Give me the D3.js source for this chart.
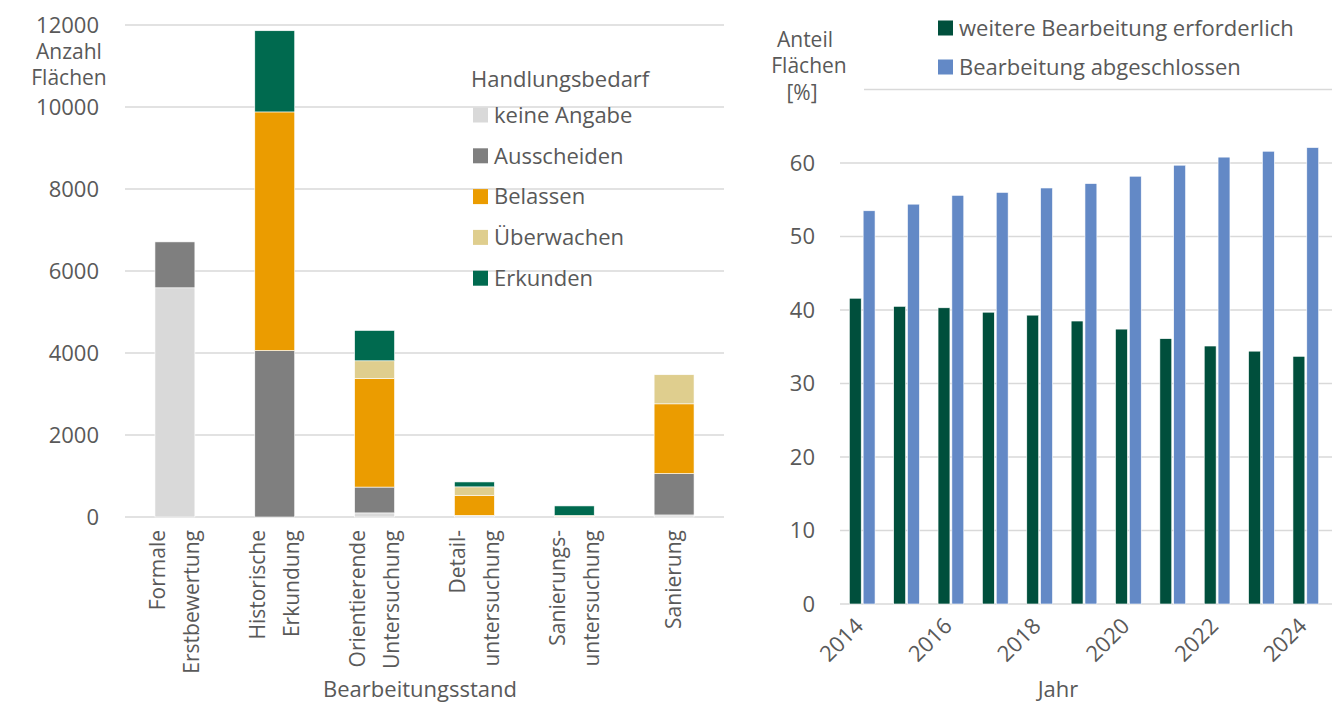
<!DOCTYPE html>
<html>
<head>
<meta charset="utf-8">
<script src="https://cdn.jsdelivr.net/npm/d3@7"></script>
<style>
  body { margin: 0; background: #fff; }
  svg text { font-family: "Open Sans", sans-serif; fill: #595959; }
</style>
</head>
<body>
<svg id="chart" width="1332" height="703"></svg>
<script>
(function(d3) {
    'use strict';

    // left chart: Bearbeitungsstand x Handlungsbedarf
    var stages = ['Formale Erstbewertung', 'Historische Erkundung', 'Orientierende Untersuchung',
        'Detailuntersuchung', 'Sanierungsuntersuchung', 'Sanierung'];
    var stageLabels = [['Formale', 'Erstbewertung'], ['Historische', 'Erkundung'],
        ['Orientierende', 'Untersuchung'], ['Detail-', 'untersuchung'],
        ['Sanierungs-', 'untersuchung'], ['Sanierung']];
    var needKeys = ['keine Angabe', 'Ausscheiden', 'Belassen', 'Überwachen', 'Erkunden'];
    var keineAngabe = [5590, 0, 100, 30, 20, 50];
    var ausscheiden = [1120, 4060, 630, 10, 0, 1010];
    var belassen = [0, 5820, 2650, 490, 20, 1700];
    var ueberwachen = [0, 0, 430, 205, 0, 710];
    var erkunden = [0, 1980, 740, 120, 230, 0];
    var countTicks = [0, 2000, 4000, 6000, 8000, 10000, 12000];

    // right chart: share per year
    var years = ['2014', '2015', '2016', '2017', '2018', '2019', '2020', '2021', '2022', '2023', '2024'];
    var yearLabels = ['2014', '2016', '2018', '2020', '2022', '2024'];
    var shareKeys = ['weitere Bearbeitung erforderlich', 'Bearbeitung abgeschlossen'];
    var weitere = [41.6, 40.5, 40.3, 39.7, 39.3, 38.5, 37.4, 36.1, 35.1, 34.4, 33.7];
    var abgeschlossen = [53.5, 54.4, 55.6, 56.0, 56.6, 57.2, 58.2, 59.7, 60.8, 61.6, 62.1];
    var shareTicks = [0, 10, 20, 30, 40, 50, 60];

    var needColors = ['#d9d9d9', '#7f7f7f', '#eb9c00', '#dfce8e', '#006a4f'];
    var shareColors = ['#004f3c', '#6389c6'];
    var gridColor = '#d9d9d9';

    var svg = d3.select('#chart');

    // ---------- left ----------
    var left = svg.append('g');
    var x = d3.scaleBand().domain(stages).range([125, 724]).paddingInner(0.6).paddingOuter(0.3);
    var y = d3.scaleLinear().domain([0, 12000]).range([517, 25]);

    left.selectAll('line.grid').data(countTicks).enter().append('line')
        .attr('class', 'grid')
        .attr('x1', 125).attr('x2', 724)
        .attr('y1', function(d) { return y(d); }).attr('y2', function(d) { return y(d); })
        .attr('stroke', gridColor).attr('stroke-width', 1.5);

    left.selectAll('text.tick').data(countTicks).enter().append('text')
        .attr('class', 'tick')
        .attr('x', 99).attr('y', function(d) { return y(d); })
        .attr('dy', '0.35em').attr('text-anchor', 'end')
        .style('font-size', '22px')
        .text(function(d) { return d; });

    var rows = stages.map(function(s, i) {
        return {stage: s, 'keine Angabe': keineAngabe[i], 'Ausscheiden': ausscheiden[i],
            'Belassen': belassen[i], 'Überwachen': ueberwachen[i], 'Erkunden': erkunden[i]};
    });
    var stacked = d3.stack().keys(needKeys)(rows);

    left.selectAll('g.layer').data(stacked).enter().append('g')
        .attr('class', 'layer')
        .attr('fill', function(d, i) { return needColors[i]; })
        .selectAll('rect').data(function(d) { return d; }).enter().append('rect')
        .filter(function(d) { return d[1] - d[0] > 0; })
        .attr('x', function(d) { return x(d.data.stage); })
        .attr('width', x.bandwidth())
        .attr('y', function(d) { return y(d[1]); })
        .attr('height', function(d) { return y(d[0]) - y(d[1]); })
        .attr('stroke', '#fff').attr('stroke-width', 0.6);

    var catLabel = left.selectAll('g.cat').data(stages).enter().append('g')
        .attr('class', 'cat')
        .attr('transform', function(d) { return 'translate(' + (x(d) + x.bandwidth() / 2) + ',530) rotate(-90)'; });
    catLabel.each(function(d, i) {
        var lines = stageLabels[i];
        var off = lines.length === 1 ? [0] : [-17, 17];
        d3.select(this).selectAll('text').data(lines).enter().append('text')
            .attr('x', 0).attr('y', function(l, j) { return off[j]; })
            .attr('dy', '0.35em').attr('text-anchor', 'end')
            .style('font-size', '21px')
            .text(function(l) { return l; });
    });

    left.append('text').attr('x', 420).attr('y', 697).attr('text-anchor', 'middle')
        .style('font-size', '22px').text('Bearbeitungsstand');
    left.append('text').attr('x', 69).attr('y', 59).attr('text-anchor', 'middle')
        .style('font-size', '21px').text('Anzahl');
    left.append('text').attr('x', 69).attr('y', 85).attr('text-anchor', 'middle')
        .style('font-size', '21px').text('Flächen');

    var legL = left.append('g');
    legL.append('text').attr('x', 471).attr('y', 87).style('font-size', '22px').text('Handlungsbedarf');
    var legItem = legL.selectAll('g.item').data(needKeys).enter().append('g')
        .attr('class', 'item')
        .attr('transform', function(d, i) { return 'translate(473,' + (115 + i * 40.8) + ')'; });
    legItem.append('rect').attr('x', 0).attr('y', -7.5).attr('width', 15).attr('height', 15)
        .attr('fill', function(d, i) { return needColors[i]; });
    legItem.append('text').attr('x', 21).attr('y', 0).attr('dy', '0.35em')
        .style('font-size', '22px').text(function(d) { return d; });

    // ---------- right ----------
    var right = svg.append('g');
    var x0 = d3.scaleBand().domain(years).range([840, 1328]).paddingInner(0.42).paddingOuter(0.21);
    var x1 = d3.scaleBand().domain(shareKeys).range([0, x0.bandwidth()]).paddingInner(0.14);
    var y2 = d3.scaleLinear().domain([0, 70]).range([604, 89.5]);

    right.selectAll('line.grid').data(shareTicks).enter().append('line')
        .attr('class', 'grid')
        .attr('x1', 840).attr('x2', 1332)
        .attr('y1', function(d) { return y2(d); }).attr('y2', function(d) { return y2(d); })
        .attr('stroke', gridColor).attr('stroke-width', 1.5);
    right.append('line')
        .attr('x1', 864).attr('x2', 1332).attr('y1', y2(70)).attr('y2', y2(70))
        .attr('stroke', gridColor).attr('stroke-width', 1.5);

    right.selectAll('text.tick').data(shareTicks).enter().append('text')
        .attr('class', 'tick')
        .attr('x', 815).attr('y', function(d) { return y2(d); })
        .attr('dy', '0.35em').attr('text-anchor', 'end')
        .style('font-size', '22px')
        .text(function(d) { return d; });

    var shareRows = years.map(function(yr, i) {
        return {year: yr, values: [weitere[i], abgeschlossen[i]]};
    });
    var grp = right.selectAll('g.year').data(shareRows).enter().append('g')
        .attr('class', 'year')
        .attr('transform', function(d) { return 'translate(' + x0(d.year) + ',0)'; });
    grp.selectAll('rect').data(function(d) { return d.values; }).enter().append('rect')
        .attr('x', function(d, i) { return x1(shareKeys[i]); })
        .attr('width', x1.bandwidth())
        .attr('y', function(d) { return y2(d); })
        .attr('height', function(d) { return y2(0) - y2(d); })
        .attr('fill', function(d, i) { return shareColors[i]; })
        .attr('stroke', '#fff').attr('stroke-width', 0.6);

    right.selectAll('text.year').data(yearLabels).enter().append('text')
        .attr('class', 'year')
        .attr('transform', function(d) { return 'translate(' + (x0(d) + x0.bandwidth() / 2 - 3) + ',622) rotate(-45)'; })
        .attr('text-anchor', 'end').attr('dy', '0.35em')
        .style('font-size', '22px')
        .text(function(d) { return d; });

    right.append('text').attr('x', 1058).attr('y', 697).attr('text-anchor', 'middle')
        .style('font-size', '22px').text('Jahr');
    right.append('text').attr('x', 805).attr('y', 47).attr('text-anchor', 'middle')
        .style('font-size', '21px').text('Anteil');
    right.append('text').attr('x', 809).attr('y', 73).attr('text-anchor', 'middle')
        .style('font-size', '21px').text('Flächen');
    right.append('text').attr('x', 802).attr('y', 100).attr('text-anchor', 'middle')
        .style('font-size', '21px').text('[%]');

    var legR = right.selectAll('g.item').data(shareKeys).enter().append('g')
        .attr('class', 'item')
        .attr('transform', function(d, i) { return 'translate(938,' + (28 + i * 39) + ')'; });
    legR.append('rect').attr('x', 0).attr('y', -7.5).attr('width', 15).attr('height', 15)
        .attr('fill', function(d, i) { return shareColors[i]; });
    legR.append('text').attr('x', 21).attr('y', 0).attr('dy', '0.35em')
        .style('font-size', '22px').text(function(d) { return d; });
}(d3));
</script>
</body>
</html>
